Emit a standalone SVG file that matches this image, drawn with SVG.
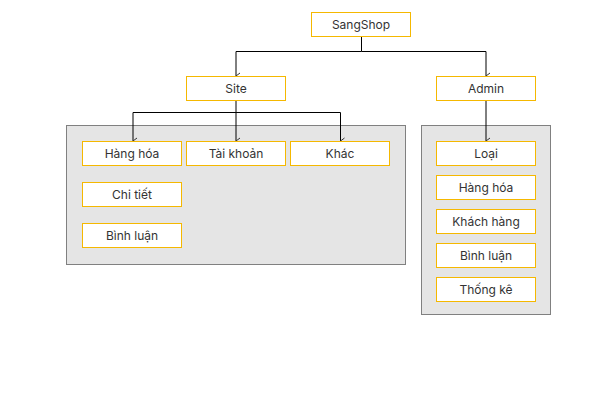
<svg xmlns="http://www.w3.org/2000/svg" width="600" height="400" viewBox="0 0 600 400">
<style>
.box{fill:#fff;stroke:#f5b800;stroke-width:1}
.grp{fill:#e5e5e5;stroke:#808080;stroke-width:1}
.lbl{font-family:Inter,"Noto Sans","Liberation Sans",sans-serif;font-size:12px;fill:#333;text-anchor:middle}
.ln{fill:none;stroke:#000;stroke-width:1}
</style>
<defs>
<marker id="ah" markerWidth="8" markerHeight="6" refX="4" refY="5" orient="auto-start-reverse" markerUnits="userSpaceOnUse" viewBox="0 0 8 6">
<path d="M1,1 L4,5 L7,1" fill="none" stroke="#333" stroke-width="1"/>
</marker>
</defs>
<rect width="600" height="400" fill="#fff"/>
<g id="site-group"><rect class="grp" x="66.5" y="125.5" width="339" height="139"/></g>
<g id="admin-group"><rect class="grp" x="421.5" y="125.5" width="129" height="189"/></g>
<g id="connectors">
<path class="ln" d="M361.5,36 V51.5 H236 V76" marker-end="url(#ah)"/>
<path class="ln" d="M361.5,51.5 H486 V76" marker-end="url(#ah)"/>
<path class="ln" d="M236,100 V112.5 H133 V141" marker-end="url(#ah)"/>
<path class="ln" d="M236,112.5 V141" marker-end="url(#ah)"/>
<path class="ln" d="M236,112.5 H340.5 V141" marker-end="url(#ah)"/>
<path class="ln" d="M486,100 V141" marker-end="url(#ah)"/>
</g>
<g id="sangshop"><rect class="box" x="311.5" y="12.5" width="99" height="24"/><text class="lbl" x="361" y="28.5">SangShop</text></g>
<g id="site"><rect class="box" x="186.5" y="76.5" width="99" height="24"/><text class="lbl" x="236" y="92.5">Site</text></g>
<g id="admin"><rect class="box" x="436.5" y="76.5" width="99" height="24"/><text class="lbl" x="486" y="92.5">Admin</text></g>
<g id="site-hanghoa"><rect class="box" x="82.5" y="141.5" width="99" height="24"/><text class="lbl" x="132" y="157.5">Hàng hóa</text></g>
<g id="site-taikhoan"><rect class="box" x="186.5" y="141.5" width="99" height="24"/><text class="lbl" x="236" y="157.5">Tài khoản</text></g>
<g id="site-khac"><rect class="box" x="290.5" y="141.5" width="99" height="24"/><text class="lbl" x="340" y="157.5">Khác</text></g>
<g id="site-chitiet"><rect class="box" x="82.5" y="182.5" width="99" height="24"/><text class="lbl" x="132" y="198.5">Chi tiết</text></g>
<g id="site-binhluan"><rect class="box" x="82.5" y="223.5" width="99" height="24"/><text class="lbl" x="132" y="239.5">Bình luận</text></g>
<g id="admin-loai"><rect class="box" x="436.5" y="141.5" width="99" height="24"/><text class="lbl" x="486" y="157.5">Loại</text></g>
<g id="admin-hanghoa"><rect class="box" x="436.5" y="175.5" width="99" height="24"/><text class="lbl" x="486" y="191.5">Hàng hóa</text></g>
<g id="admin-khachhang"><rect class="box" x="436.5" y="209.5" width="99" height="24"/><text class="lbl" x="486" y="225.5">Khách hàng</text></g>
<g id="admin-binhluan"><rect class="box" x="436.5" y="243.5" width="99" height="24"/><text class="lbl" x="486" y="259.5">Bình luận</text></g>
<g id="admin-thongke"><rect class="box" x="436.5" y="277.5" width="99" height="24"/><text class="lbl" x="486" y="293.5">Thống kê</text></g>
</svg>
